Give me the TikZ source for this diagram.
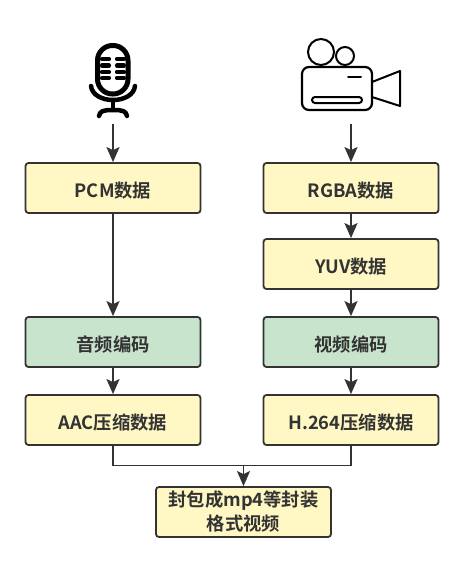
\documentclass[tikz,border=0pt]{standalone}
\usepackage{fontspec}
\setmainfont{Noto Sans CJK SC}[BoldFont={Noto Sans CJK SC Bold}]
\usetikzlibrary{arrows.meta}
\definecolor{boxyellow}{HTML}{FFF8C4}
\definecolor{boxgreen}{HTML}{C8E4CC}
\definecolor{ink}{HTML}{333333}
\tikzset{
  x=1pt,y=-1pt,
  flowbox/.style={draw=ink,line width=1.8pt,rounded corners=3pt,minimum width=175pt,minimum height=50pt,inner sep=0pt,align=center,text=ink,font=\fontsize{18.3}{24}\selectfont\bfseries,execute at begin node={\rule{0pt}{20.5pt}}},
  yellowbox/.style={flowbox,fill=boxyellow},
  greenbox/.style={flowbox,fill=boxgreen},
  link/.style={draw=ink,line width=1.7pt},
  arrowlink/.style={link,-{Stealth[length=15pt,width=13pt,inset=3pt]}},
  iconline/.style={draw=black,line cap=round,line join=round},
}
\begin{document}
\begin{tikzpicture}
\useasboundingbox (0,0) rectangle (463,562);
% microphone
\coordinate (micout) at (113,124);
\draw[iconline,line width=5pt,rounded corners=15pt] (97.5,45.5) rectangle (128,94);
\foreach \yy in {59,65.5,72,78}{
  \draw[iconline,line width=4.2pt] (102,\yy) -- (109,\yy);
  \draw[iconline,line width=4.2pt] (117,\yy) -- (124,\yy);
}
\draw[iconline,line width=4.5pt] (91,86) .. controls (92,95) and (102,100) .. (113,100) .. controls (124,100) and (134,95) .. (135,86);
\draw[iconline,line width=4pt] (113,100) -- (113,110);
\draw[iconline,line width=4.5pt] (99,116) .. controls (100,111) and (103,110) .. (113,110) .. controls (123,110) and (126,111) .. (127,116);
% camera
\coordinate (camout) at (351,124);
\draw[iconline,line width=2pt] (321,52) circle[radius=13];
\draw[iconline,line width=2pt] (345,56) circle[radius=9];
\draw[iconline,line width=2.2pt,fill=white,rounded corners=7pt] (302,67) rectangle (372,110);
\draw[iconline,line width=2pt] (372,82) -- (400,71) -- (400,106) -- (372,97);
\draw[iconline,line width=2pt] (348,77) -- (361,77);
\draw[iconline,line width=2pt,rounded corners=3pt] (312,97) rectangle (362,103);
% boxes
\node[yellowbox] (pcm)  at (113,188) {PCM数据};
\node[greenbox]  (aenc) at (113,342) {音频编码};
\node[yellowbox] (aac)  at (113,420) {AAC压缩数据};
\node[yellowbox] (rgba) at (351,188) {RGBA数据};
\node[yellowbox] (yuv)  at (351,264) {YUV数据};
\node[greenbox]  (venc) at (351,342) {视频编码};
\node[yellowbox] (h264) at (351,420) {H.264压缩数据};
\node[yellowbox] (mp4)  at (243.5,512) {封包成mp4等封装\\格式视频};
% connectors
\draw[arrowlink] (micout) -- (pcm.north);
\draw[arrowlink] (pcm) -- (aenc);
\draw[arrowlink] (aenc) -- (aac);
\draw[arrowlink] (camout) -- (rgba.north);
\draw[arrowlink] (rgba) -- (yuv);
\draw[arrowlink] (yuv) -- (venc);
\draw[arrowlink] (venc) -- (h264);
\coordinate (join) at (243.5,465.5);
\draw[link] (aac.south) |- (join);
\draw[link] (h264.south) |- (join);
\draw[arrowlink] (join) -- (mp4.north);
\end{tikzpicture}
\end{document}
